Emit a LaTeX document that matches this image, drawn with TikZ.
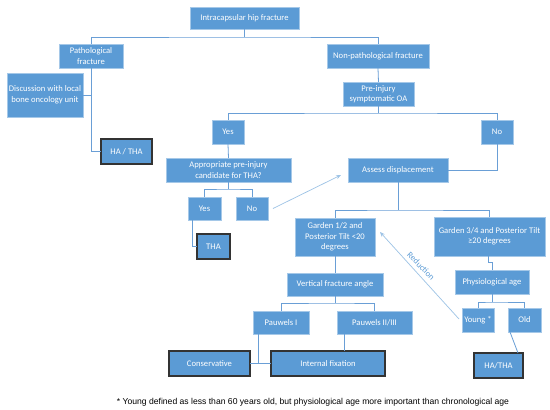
\documentclass[tikz,border=0pt]{standalone}
\usepackage{fontspec}
\setmainfont{Carlito}
\newfontfamily\footfont{Liberation Sans}
\usetikzlibrary{arrows.meta}
\definecolor{boxblue}{HTML}{5B9BD5}
\definecolor{linkblue}{HTML}{6A9FD6}
\definecolor{arrblue}{HTML}{9DC3E6}
\begin{document}
\begin{tikzpicture}[x=1pt,y=-1pt,
  box/.style={fill=boxblue, draw=boxblue!55!white, line width=0.5pt, text=white,
    font=\fontsize{8.6}{10.5}\selectfont, align=center, inner sep=1pt, outer sep=0pt},
  dbox/.style={box, draw=black!80, line width=1.1pt},
  link/.style={draw=linkblue, line width=0.8pt},
  arr/.style={draw=arrblue, line width=0.7pt, -{Stealth[length=5pt,width=4pt]}}]
\fill[white] (0,0) rectangle (550,410);
\useasboundingbox (0,0) rectangle (550,410);
% nodes
\node[box, minimum width=109pt, minimum height=22pt] (intra) at (244.5,18) {Intracapsular hip fracture};
\node[box, minimum width=64pt, minimum height=24pt] (path) at (91,56) {Pathological\\fracture};
\node[box, minimum width=102pt, minimum height=24pt] (nonpath) at (378,56) {Non-pathological fracture};
\node[box, minimum width=76pt, minimum height=44pt] (disc) at (45,95) {Discussion with local\\bone oncology unit};
\node[box, minimum width=71pt, minimum height=24pt] (preop) at (378.5,94) {Pre-injury\\symptomatic OA};
\node[dbox, minimum width=51pt, minimum height=25pt] (hatha1) at (126.5,151.5) {HA / THA};
\node[box, minimum width=32pt, minimum height=24pt] (yes1) at (228,132) {Yes};
\node[box, minimum width=32pt, minimum height=24pt] (no1) at (497,132) {No};
\node[box, minimum width=125pt, minimum height=24pt] (appr) at (228.5,170) {Appropriate pre-injury\\candidate for THA?};
\node[box, minimum width=33pt, minimum height=23pt] (yes2) at (204.5,208.5) {Yes};
\node[box, minimum width=32pt, minimum height=23pt] (no2) at (252,208.5) {No};
\node[dbox, minimum width=33pt, minimum height=25pt] (tha) at (213.5,246.5) {THA};
\node[box, minimum width=100pt, minimum height=24pt] (assess) at (398,170) {Assess displacement};
\node[box, minimum width=80pt, minimum height=38pt] (g12) at (335,237) {Garden 1/2 and\\Posterior Tilt <20\\degrees};
\node[box, minimum width=111pt, minimum height=39pt] (g34) at (489.5,236.5) {Garden 3/4 and Posterior Tilt\\≥20 degrees};
\node[box, minimum width=74pt, minimum height=24pt] (phys) at (492,282) {Physiological age};
\node[box, minimum width=32pt, minimum height=24pt] (young) at (478,320) {Young *};
\node[box, minimum width=33pt, minimum height=24pt] (old) at (524.5,320) {Old};
\node[dbox, minimum width=49pt, minimum height=25pt] (hatha2) at (498.5,365.5) {HA/THA};
\node[box, minimum width=96pt, minimum height=23pt] (vert) at (335,284.5) {Vertical fracture angle};
\node[box, minimum width=56pt, minimum height=23pt] (pau1) at (281,322.5) {Pauwels I};
\node[box, minimum width=75pt, minimum height=23pt] (pau23) at (374.5,322.5) {Pauwels II/III};
\node[dbox, minimum width=81pt, minimum height=25pt] (cons) at (209.5,363.5) {Conservative};
\node[dbox, minimum width=114pt, minimum height=25pt] (intfix) at (328,363.5) {Internal fixation};
\node[font=\footfont\fontsize{8.6}{10}\selectfont, inner sep=0pt] (foot) at (313,402) {* Young defined as less than 60 years old, but physiological age more important than chronological age};
% junctions
\coordinate (j1) at (244.5,37);
\coordinate (j2) at (378.5,113);
\coordinate (j3) at (228.5,189);
\coordinate (j4) at (398,210);
\coordinate (j5) at (492,302);
\coordinate (j6) at (335,303);
% connectors
\draw[link] (intra.south) -- (j1);
\draw[link] (path.north) |- (j1) -| (nonpath.north);
\draw[link] (path.south) |- (hatha1.west);
\draw[link] (disc.east) -- (disc.east -| path.south);
\draw[link] (nonpath.south) -- (preop.north);
\draw[link] (preop.south) -- (j2);
\draw[link] (yes1.north) |- (j2) -| (no1.north);
\draw[link] (yes1.south) -- (appr.north);
\draw[link] (appr.south) -- (j3);
\draw[link] (yes2.north) |- (j3) -| (no2.north);
\draw[link] ([xshift=-12.5pt]yes2.south) |- (tha.west);
\draw[arr] ([xshift=5pt]no2.east) -- ([xshift=-7pt,yshift=-5pt]assess.west);
\draw[link] (no1.south) |- (assess.east);
\draw[link] (assess.south) -- (j4);
\draw[link] (g12.north) |- (j4) -| (g34.north);
\draw[link] ([xshift=-1.5pt]g34.south) -- ++(0,6) -| (phys.north);
\draw[link] (phys.south) -- (j5);
\draw[link] (young.north) |- (j5) -| (old.north);
\draw[link] ([xshift=-14.5pt]old.south) -- ([xshift=19.5pt]hatha2.north);
\draw[arr] ([xshift=-3pt,yshift=1pt]young.west) -- ([xshift=5pt,yshift=5pt]g12.east);
\node[text=boxblue, rotate=-45, font=\fontsize{8.5}{10}\selectfont, inner sep=0pt] (red) at (421,266) {Reduction};
\draw[link] (g12.south) -- (vert.north);
\draw[link] (vert.south) -- (j6);
\draw[link] (pau1.north) |- (j6) -| (pau23.north);
\draw[link] ([xshift=-23pt]pau1.south) -- ([xshift=-23pt]pau1.south |- cons.east);
\draw[link] (cons.east) -- (intfix.west);
\draw[link] ([xshift=-30.5pt]pau23.south) -- ([xshift=-30.5pt]pau23.south |- intfix.north);
\end{tikzpicture}
\end{document}
